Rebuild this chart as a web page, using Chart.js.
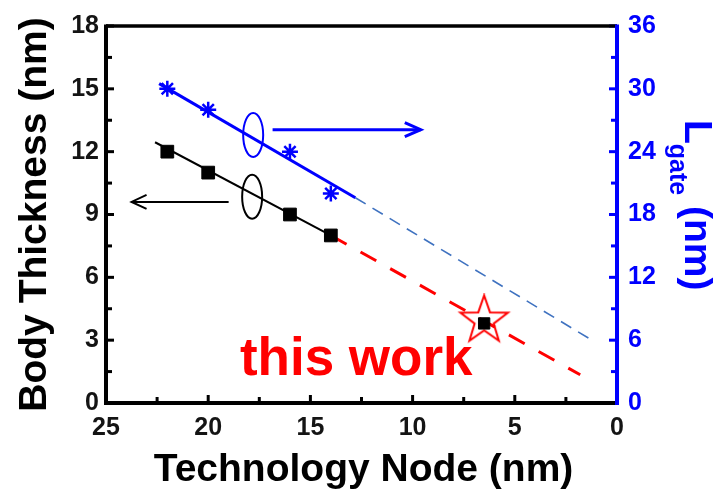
<!DOCTYPE html>
<html>
<head>
<meta charset="utf-8">
<script src="https://cdn.jsdelivr.net/npm/chart.js@4/dist/chart.umd.min.js"></script>
<style>
  html, body { margin: 0; padding: 0; background: #ffffff; }
  canvas { display: block; }
</style>
</head>
<body>
<canvas id="chart" width="716" height="489"></canvas>
<script>
// Measured devices: technology node vs. body thickness (left axis) and gate length (right axis)
const nodeNm        = [22, 20, 16, 14];
const bodyThickness = [12, 11, 9, 8];
const gateLength    = [30, 28, 24, 20];

// "this work" device
const thisWorkNode = [6.5];
const thisWorkBody = [3.8];

// Fitted trend segments (solid fit over measured nodes, dashed extrapolation)
const bodyFitX   = [22.6, 14];
const bodyFitY   = [12.45, 8];
const bodyTrendX = [14, 1.8];
const bodyTrendY = [8, 1.35];
const gateFitX   = [22.4, 12.8];
const gateFitY   = [30.5, 19.6];
const gateTrendX = [12.8, 1.1];
const gateTrendY = [19.6, 5.85];

// Axis tick values
const xTickValues     = [25, 20, 15, 10, 5, 0];
const xMinorValues    = [22.5, 17.5, 12.5, 7.5, 2.5];
const leftTickValues  = [0, 3, 6, 9, 12, 15, 18];
const leftMinorValues = [1.5, 4.5, 7.5, 10.5, 13.5, 16.5];
const rightTickValues = [0, 6, 12, 18, 24, 30, 36];
const rightMinorValues= [3, 9, 15, 21, 27, 33];

// Callout markers (ovals around each fit line, arrows pointing to the axis each line uses)
const bodyOval  = [17.85, 9.85];
const gateOval  = [17.8, 12.8];
const bodyArrow = [[19.0, 9.6], [23.75, 9.6]];
const gateArrow = [[16.85, 13.05], [9.6, 13.05]];
const thisWorkLabelAt = [18.45, 1.35];

const BLUE = '#0000ff';
const RED = '#ff0000';
const TICK_FONT = "'Liberation Sans', Arial, sans-serif";
const TITLE_FONT = "bold 39px 'Liberation Sans', Arial, sans-serif";

const pts = (xs, ys) => xs.map((x, i) => ({ x: x, y: ys[i] }));

// Hollow five-point star used as the "this work" marker
function makeStarCanvas() {
  const c = document.createElement('canvas');
  c.width = 60; c.height = 60;
  const g = c.getContext('2d');
  const cx = 30, cy = 27, R = 25, r = 10;
  g.beginPath();
  for (let i = 0; i < 10; i++) {
    const rad = (i % 2 === 0) ? R : r;
    const a = -Math.PI / 2 + i * Math.PI / 5;
    const px = cx + rad * Math.cos(a), py = cy + rad * Math.sin(a);
    if (i === 0) g.moveTo(px, py); else g.lineTo(px, py);
  }
  g.closePath();
  g.strokeStyle = RED;
  g.lineWidth = 2;
  g.stroke();
  return c;
}
const starMarker = makeStarCanvas();

// Frame and inward tick marks
const framePlugin = {
  id: 'frame',
  beforeDatasetsDraw(chart) {
    const { ctx, chartArea: a, scales } = chart;
    const xs = scales.x, yl = scales.y, yr = scales.y2;
    ctx.save();
    ctx.lineCap = 'butt';
    ctx.lineWidth = 3;
    ctx.strokeStyle = '#000';
    xTickValues.forEach(v => { const p = xs.getPixelForValue(v); ctx.beginPath(); ctx.moveTo(p, a.bottom); ctx.lineTo(p, a.bottom - 8); ctx.stroke(); });
    xMinorValues.forEach(v => { const p = xs.getPixelForValue(v); ctx.beginPath(); ctx.moveTo(p, a.bottom); ctx.lineTo(p, a.bottom - 6); ctx.stroke(); });
    leftTickValues.forEach(v => { const p = yl.getPixelForValue(v); ctx.beginPath(); ctx.moveTo(a.left, p); ctx.lineTo(a.left + 8, p); ctx.stroke(); });
    leftMinorValues.forEach(v => { const p = yl.getPixelForValue(v); ctx.beginPath(); ctx.moveTo(a.left, p); ctx.lineTo(a.left + 6, p); ctx.stroke(); });
    ctx.strokeStyle = BLUE;
    rightTickValues.forEach(v => { const p = yr.getPixelForValue(v); ctx.beginPath(); ctx.moveTo(a.right, p); ctx.lineTo(a.right - 8, p); ctx.stroke(); });
    rightMinorValues.forEach(v => { const p = yr.getPixelForValue(v); ctx.beginPath(); ctx.moveTo(a.right, p); ctx.lineTo(a.right - 6, p); ctx.stroke(); });
    ctx.strokeStyle = '#000';
    ctx.lineWidth = 3.5;
    ctx.beginPath(); ctx.moveTo(a.left, a.top); ctx.lineTo(a.right, a.top); ctx.stroke();
    ctx.lineWidth = 4;
    ctx.beginPath(); ctx.moveTo(a.left, a.top - 1.5); ctx.lineTo(a.left, a.bottom); ctx.lineTo(a.right, a.bottom); ctx.stroke();
    ctx.strokeStyle = BLUE;
    ctx.beginPath(); ctx.moveTo(a.right, a.top - 1.5); ctx.lineTo(a.right, a.bottom + 2); ctx.stroke();
    ctx.restore();
  }
};

// Ovals, arrows and the "this work" label
function arrow(ctx, x1, y1, x2, y2, color, width, headLen, headHalf) {
  ctx.strokeStyle = color;
  ctx.lineWidth = width;
  ctx.beginPath(); ctx.moveTo(x1, y1); ctx.lineTo(x2, y2); ctx.stroke();
  const dir = Math.sign(x2 - x1);
  ctx.beginPath();
  ctx.moveTo(x2 - dir * headLen, y2 - headHalf);
  ctx.lineTo(x2, y2);
  ctx.lineTo(x2 - dir * headLen, y2 + headHalf);
  ctx.stroke();
}
const calloutPlugin = {
  id: 'callouts',
  afterDatasetsDraw(chart) {
    const { ctx, scales } = chart;
    const X = v => scales.x.getPixelForValue(v);
    const YL = v => scales.y.getPixelForValue(v);
    ctx.save();
    ctx.lineWidth = 2;
    ctx.strokeStyle = BLUE;
    ctx.beginPath(); ctx.ellipse(X(gateOval[0]), YL(gateOval[1]), 10, 22, 0, 0, Math.PI * 2); ctx.stroke();
    ctx.strokeStyle = '#000';
    ctx.beginPath(); ctx.ellipse(X(bodyOval[0]), YL(bodyOval[1]), 10, 22, 0, 0, Math.PI * 2); ctx.stroke();
    arrow(ctx, X(gateArrow[0][0]), YL(gateArrow[0][1]), X(gateArrow[1][0]), YL(gateArrow[1][1]), BLUE, 3, 16, 7);
    arrow(ctx, X(bodyArrow[0][0]), YL(bodyArrow[0][1]), X(bodyArrow[1][0]), YL(bodyArrow[1][1]), '#000', 2, 15, 7);
    ctx.fillStyle = RED;
    ctx.font = "bold 53px 'Liberation Sans', Arial, sans-serif";
    ctx.textAlign = 'left';
    ctx.textBaseline = 'alphabetic';
    ctx.fillText('this work', X(thisWorkLabelAt[0]), YL(thisWorkLabelAt[1]));
    ctx.restore();
  }
};

// Axis titles (right title carries a subscript)
const titlesPlugin = {
  id: 'titles',
  afterDraw(chart) {
    const { ctx, chartArea: a } = chart;
    ctx.save();
    ctx.fillStyle = '#000';
    ctx.font = TITLE_FONT;
    ctx.textBaseline = 'alphabetic';
    ctx.textAlign = 'center';
    ctx.fillText('Technology Node (nm)', (a.left + a.right) / 2 + 2, 481);

    ctx.save();
    ctx.translate(46, (a.top + a.bottom) / 2);
    ctx.rotate(-Math.PI / 2);
    ctx.fillText('Body Thickness (nm)', 0, 0);
    ctx.restore();

    ctx.save();
    ctx.fillStyle = BLUE;
    ctx.translate(685, 120);
    ctx.rotate(Math.PI / 2);
    ctx.textAlign = 'left';
    ctx.font = TITLE_FONT;
    ctx.fillText('L', 0, 0);
    let off = ctx.measureText('L').width;
    ctx.font = "bold 25px 'Liberation Sans', Arial, sans-serif";
    ctx.fillText('gate', off, 15);
    off += ctx.measureText('gate').width;
    ctx.font = TITLE_FONT;
    ctx.fillText(' (nm)', off, 0);
    ctx.restore();
    ctx.restore();
  }
};

const setTicks = values => scale => { scale.ticks = values.map(v => ({ value: v })); };
const tickFont = { family: TICK_FONT, size: 25, weight: 'bold' };

new Chart(document.getElementById('chart'), {
  type: 'scatter',
  data: {
    datasets: [
      { label: 'this work', data: pts(thisWorkNode, thisWorkBody), yAxisID: 'y', order: 0,
        pointStyle: 'rect', pointRadius: 8, backgroundColor: '#000', borderColor: '#000', borderWidth: 1 },
      { label: 'this work star', data: pts(thisWorkNode, thisWorkBody), yAxisID: 'y', order: 1,
        pointStyle: starMarker, pointRadius: 25 },
      { label: 'Body thickness', data: pts(nodeNm, bodyThickness), yAxisID: 'y', order: 2,
        pointStyle: 'rect', pointRadius: 9, backgroundColor: '#000', borderColor: '#000', borderWidth: 1 },
      { label: 'Lgate', data: pts(nodeNm, gateLength), yAxisID: 'y2', order: 3,
        pointStyle: 'star', pointRadius: 8, backgroundColor: BLUE, borderColor: BLUE, borderWidth: 2.5 },
      { label: 'Body fit', data: pts(bodyFitX, bodyFitY), yAxisID: 'y', order: 4, showLine: true,
        pointRadius: 0, borderColor: '#000', borderWidth: 2 },
      { label: 'Body trend', data: pts(bodyTrendX, bodyTrendY), yAxisID: 'y', order: 5, showLine: true,
        pointRadius: 0, borderColor: RED, borderWidth: 3, borderDash: [18, 16] },
      { label: 'Lgate fit', data: pts(gateFitX, gateFitY), yAxisID: 'y2', order: 6, showLine: true,
        pointRadius: 0, borderColor: BLUE, borderWidth: 3 },
      { label: 'Lgate trend', data: pts(gateTrendX, gateTrendY), yAxisID: 'y2', order: 7, showLine: true,
        pointRadius: 0, borderColor: '#3f72c0', borderWidth: 1.6, borderDash: [12, 8] }
    ]
  },
  options: {
    responsive: false,
    animation: false,
    devicePixelRatio: 1,
    layout: { padding: { top: 26, left: 0, right: 0, bottom: 0 } },
    plugins: { legend: { display: false }, tooltip: { enabled: false } },
    scales: {
      x: {
        type: 'linear', position: 'bottom', reverse: true, min: 0, max: 25,
        afterBuildTicks: setTicks(xTickValues),
        afterFit: s => { s.height = 86; },
        grid: { display: false, drawTicks: false }, border: { display: false },
        ticks: { font: tickFont, color: '#141414', padding: 10, maxRotation: 0, autoSkip: false }
      },
      y: {
        type: 'linear', position: 'left', min: 0, max: 18,
        afterBuildTicks: setTicks(leftTickValues),
        afterFit: s => { s.width = 106; },
        grid: { display: false, drawTicks: false }, border: { display: false },
        ticks: { font: tickFont, color: '#141414', padding: 7, autoSkip: false }
      },
      y2: {
        type: 'linear', position: 'right', min: 0, max: 36,
        afterBuildTicks: setTicks(rightTickValues),
        afterFit: s => { s.width = 99; },
        grid: { display: false, drawTicks: false }, border: { display: false },
        ticks: { font: tickFont, color: BLUE, padding: 11, autoSkip: false }
      }
    }
  },
  plugins: [framePlugin, calloutPlugin, titlesPlugin]
});
</script>
</body>
</html>
